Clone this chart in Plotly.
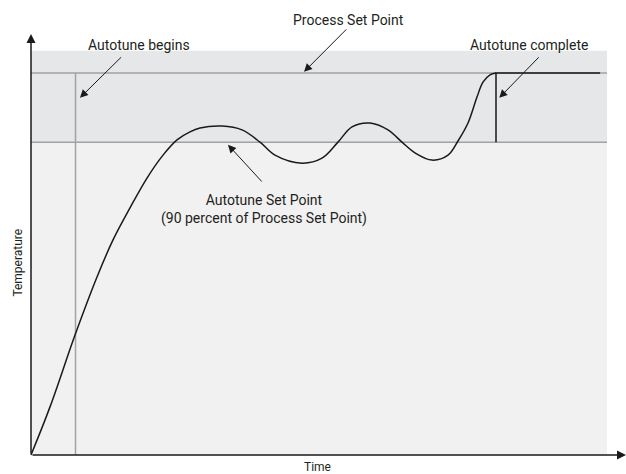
import plotly.graph_objects as go

# ---- data (time units / temperature units) ----
time_pts = [0, 3.30, 7.64, 11.46, 14.24, 17.19, 20.14, 22.92, 25.35, 27.60, 29.34,
            33.16, 36.63, 39.76, 42.36, 47.05, 50.52, 53.30, 55.73, 58.85, 61.98,
            64.41, 66.67, 69.62, 72.40, 74.13, 75.87, 77.43, 78.47, 79.69, 80.73]
temp_pts = [0, 12.6, 31.4, 46.6, 56.3, 64.7, 72.5, 78.5, 82.5, 84.6, 85.6,
            86.1, 85.1, 81.9, 78.5, 76.4, 77.7, 81.9, 85.9, 86.9, 85.1,
            81.9, 79.1, 77.2, 78.5, 82.2, 86.9, 93.7, 97.6, 99.5, 100.0]

process_set_point = 100.0
autotune_set_point = 81.9
autotune_begin_t = 7.73
autotune_complete_t = 80.73
time_end = 98.8
panel_right = 100.0
panel_top = 105.8
axis_x_end = 103.3
axis_y_end = 110.2

FONT = "Roboto, DejaVu Sans Condensed, sans-serif"
TXT = "#231f20"
GRAY = "#a2a2a2"

fig = go.Figure()

# background bands
fig.add_shape(type="rect", x0=0, x1=panel_right, y0=0, y1=autotune_set_point,
              fillcolor="#f1f1f1", line_width=0, layer="below")
fig.add_shape(type="rect", x0=0, x1=panel_right, y0=autotune_set_point, y1=panel_top,
              fillcolor="#e6e7e8", line_width=0, layer="below")

# set point lines
fig.add_trace(go.Scatter(x=[0, panel_right], y=[process_set_point] * 2, mode="lines",
                         line=dict(color=GRAY, width=1.5), hoverinfo="skip"))
fig.add_trace(go.Scatter(x=[0, panel_right], y=[autotune_set_point] * 2, mode="lines",
                         line=dict(color=GRAY, width=1.5), hoverinfo="skip"))
fig.add_trace(go.Scatter(x=[autotune_begin_t] * 2, y=[0, process_set_point], mode="lines",
                         line=dict(color=GRAY, width=1.5), hoverinfo="skip"))

# temperature curve
fig.add_trace(go.Scatter(x=time_pts, y=temp_pts, mode="lines",
                         line=dict(color="#1a1a1a", width=1.5, shape="spline", smoothing=1.0),
                         hoverinfo="skip"))
fig.add_trace(go.Scatter(x=[autotune_complete_t, autotune_complete_t, time_end],
                         y=[autotune_set_point, process_set_point, process_set_point],
                         mode="lines", line=dict(color="#1a1a1a", width=1.5), hoverinfo="skip"))

# axes with arrowheads
for (x, y) in [(0, axis_y_end), (axis_x_end, 0)]:
    fig.add_annotation(x=x, y=y, ax=0, ay=0, axref="x", ayref="y", xref="x", yref="y",
                       text="", showarrow=True, arrowhead=2, arrowsize=1.2, arrowwidth=1.5,
                       arrowcolor="#1a1a1a")

# label arrows: (head_x, head_y, tail_x, tail_y)
arrows = [
    (47.4, 100.3, 55.0, 111.8),
    (8.5, 93.5, 15.9, 104.5),
    (81.3, 93.5, 88.4, 104.5),
    (34.2, 81.2, 40.3, 71.2),
]
for hx, hy, tx, ty in arrows:
    fig.add_annotation(x=hx, y=hy, ax=tx, ay=ty, axref="x", ayref="y", xref="x", yref="y",
                       text="", showarrow=True, arrowhead=2, arrowsize=1.6, arrowwidth=1,
                       arrowcolor="#1a1a1a")

labels = [
    ("Process Set Point", 55.2, 113.9, 14, 0),
    ("Autotune begins", 18.75, 107.3, 14, 0),
    ("Autotune complete", 86.46, 107.3, 14, 0),
    ("Autotune Set Point<br>(90 percent of Process Set Point)", 40.45, 64.2, 14, 0),
    ("Temperature", -2.3, 50.3, 12, -90),
    ("Time", 49.8, -3.2, 12, 0),
]
for txt, x, y, size, ang in labels:
    fig.add_annotation(x=x, y=y, xref="x", yref="y", text=txt, showarrow=False,
                       textangle=ang, font=dict(family=FONT, size=size, color=TXT))

fig.update_layout(
    width=626, height=474, margin=dict(l=0, r=0, t=0, b=0),
    paper_bgcolor="white", plot_bgcolor="white", showlegend=False,
    xaxis=dict(range=[-5.382, 103.30], visible=False, fixedrange=True),
    yaxis=dict(range=[-4.974, 119.11], visible=False, fixedrange=True),
)

fig.write_html("out.html", config={"displayModeBar": False},
               post_script="document.body.style.margin='0';document.body.style.overflow='hidden';")
